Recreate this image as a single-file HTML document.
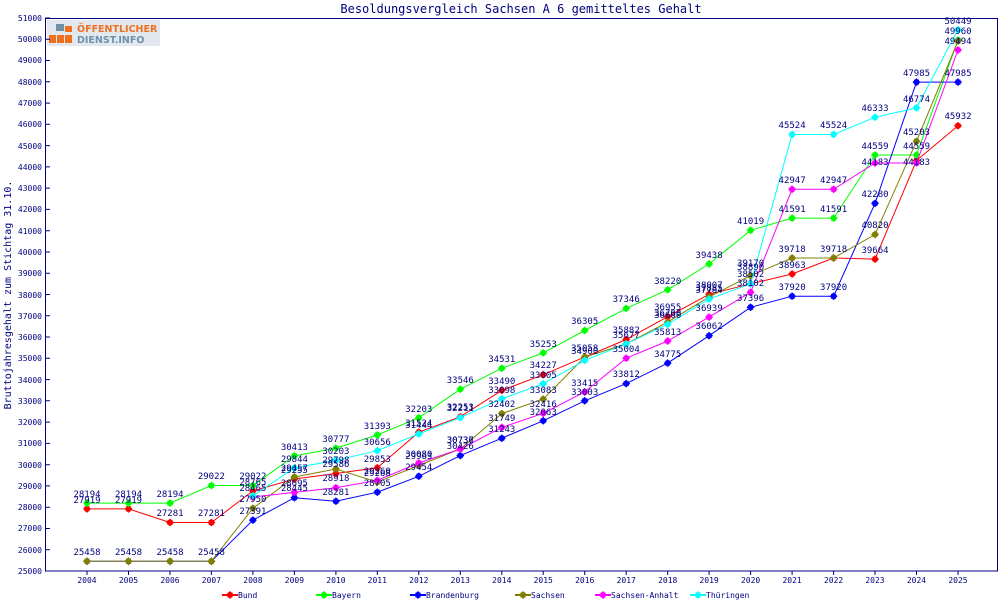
<!DOCTYPE html>
<html><head><meta charset="utf-8"><style>
body{margin:0;background:#fff}
svg text{font-family:"DejaVu Sans Mono","Liberation Mono",monospace;fill:#000080}
.l{font-size:9px;text-anchor:middle}
</style></head><body>
<svg width="1000" height="600" xmlns="http://www.w3.org/2000/svg">
<defs>
<marker id="mr" markerUnits="userSpaceOnUse" markerWidth="8" markerHeight="8" refX="4" refY="4"><path d="M1.5 1.5H6.5V6.5H1.5Z M4 0L8 4L4 8L0 4Z" fill="#f00"/></marker>
<marker id="mg" markerUnits="userSpaceOnUse" markerWidth="8" markerHeight="8" refX="4" refY="4"><path d="M1.5 1.5H6.5V6.5H1.5Z M4 0L8 4L4 8L0 4Z" fill="#0f0"/></marker>
<marker id="mb" markerUnits="userSpaceOnUse" markerWidth="8" markerHeight="8" refX="4" refY="4"><path d="M1.5 1.5H6.5V6.5H1.5Z M4 0L8 4L4 8L0 4Z" fill="#00f"/></marker>
<marker id="mo" markerUnits="userSpaceOnUse" markerWidth="8" markerHeight="8" refX="4" refY="4"><path d="M1.5 1.5H6.5V6.5H1.5Z M4 0L8 4L4 8L0 4Z" fill="#808000"/></marker>
<marker id="mm" markerUnits="userSpaceOnUse" markerWidth="8" markerHeight="8" refX="4" refY="4"><path d="M1.5 1.5H6.5V6.5H1.5Z M4 0L8 4L4 8L0 4Z" fill="#f0f"/></marker>
<marker id="mc" markerUnits="userSpaceOnUse" markerWidth="8" markerHeight="8" refX="4" refY="4"><path d="M1.5 1.5H6.5V6.5H1.5Z M4 0L8 4L4 8L0 4Z" fill="#0ff"/></marker>
</defs>
<text x="521" y="13" style="font-size:12px;text-anchor:middle">Besoldungsvergleich Sachsen A 6 gemitteltes Gehalt</text>
<rect x="45.5" y="18.5" width="952" height="552.5" fill="none" stroke="#000080"/>
<rect x="47" y="20" width="113" height="26" fill="#e2e8ee"/>
<rect x="56" y="24" width="8" height="7" fill="#7090a8"/><rect x="65" y="26" width="7" height="6" fill="#f07020"/>
<rect x="49" y="35" width="7" height="8" fill="#f07020"/><rect x="57" y="35" width="7" height="8" fill="#f07020"/><rect x="65" y="35" width="7" height="8" fill="#f07020"/>
<text x="77" y="32" style="font-family:'DejaVu Sans',sans-serif;font-size:9.5px;font-weight:bold;fill:#f07020">ÖFFENTLICHER</text>
<text x="77" y="43" style="font-family:'DejaVu Sans',sans-serif;font-size:9.5px;font-weight:bold;fill:#7090b0">DIENST.INFO</text>
<g stroke="#000080">
<path d="M45 571h5M45 549.7h5M45 528.5h5M45 507.2h5M45 485.9h5M45 464.7h5M45 443.4h5M45 422.1h5M45 400.8h5M45 379.6h5M45 358.3h5M45 337h5M45 315.8h5M45 294.5h5M45 273.2h5M45 252h5M45 230.7h5M45 209.4h5M45 188.1h5M45 166.9h5M45 145.6h5M45 124.3h5M45 103.1h5M45 81.8h5M45 60.5h5M45 39.3h5M45 18h5"/>
<path d="M87 571v4M128.5 571v4M170 571v4M211.4 571v4M252.9 571v4M294.4 571v4M335.9 571v4M377.3 571v4M418.8 571v4M460.3 571v4M501.8 571v4M543.2 571v4M584.7 571v4M626.2 571v4M667.7 571v4M709.1 571v4M750.6 571v4M792.1 571v4M833.6 571v4M875 571v4M916.5 571v4M958 571v4"/>
</g>
<g style="font-size:8px;text-anchor:end">
<text x="42" y="574">25000</text><text x="42" y="553">26000</text><text x="42" y="531">27000</text><text x="42" y="510">28000</text><text x="42" y="489">29000</text><text x="42" y="468">30000</text><text x="42" y="446">31000</text><text x="42" y="425">32000</text><text x="42" y="404">33000</text><text x="42" y="383">34000</text><text x="42" y="361">35000</text><text x="42" y="340">36000</text><text x="42" y="319">37000</text><text x="42" y="298">38000</text><text x="42" y="276">39000</text><text x="42" y="255">40000</text><text x="42" y="234">41000</text><text x="42" y="212">42000</text><text x="42" y="191">43000</text><text x="42" y="170">44000</text><text x="42" y="149">45000</text><text x="42" y="127">46000</text><text x="42" y="106">47000</text><text x="42" y="85">48000</text><text x="42" y="63">49000</text><text x="42" y="42">50000</text><text x="42" y="21">51000</text>
</g>
<g style="font-size:8px;text-anchor:middle">
<text x="87" y="583">2004</text><text x="128.5" y="583">2005</text><text x="170" y="583">2006</text><text x="211.4" y="583">2007</text><text x="252.9" y="583">2008</text><text x="294.4" y="583">2009</text><text x="335.9" y="583">2010</text><text x="377.3" y="583">2011</text><text x="418.8" y="583">2012</text><text x="460.3" y="583">2013</text><text x="501.8" y="583">2014</text><text x="543.2" y="583">2015</text><text x="584.7" y="583">2016</text><text x="626.2" y="583">2017</text><text x="667.7" y="583">2018</text><text x="709.1" y="583">2019</text><text x="750.6" y="583">2020</text><text x="792.1" y="583">2021</text><text x="833.6" y="583">2022</text><text x="875" y="583">2023</text><text x="916.5" y="583">2024</text><text x="958" y="583">2025</text>
</g>
<text transform="translate(11,295) rotate(-90)" style="font-size:10px;text-anchor:middle">Bruttojahresgehalt zum Stichtag 31.10.</text>
<g fill="none" stroke-width="1">
<polyline stroke="#f00" marker-start="url(#mr)" marker-mid="url(#mr)" marker-end="url(#mr)" points="87,508.9 128.5,508.9 170,522.5 211.4,522.5 252.9,490.9 294.4,479 335.9,473.5 377.3,467.8 418.8,432.2 460.3,416.7 501.8,390.4 543.2,374.7 584.7,357.1 626.2,339.5 667.7,316.7 709.1,294.3 750.6,283.8 792.1,274 833.6,258 875,259.1 916.5,160.5 958,125.8"/>
<polyline stroke="#0f0" marker-start="url(#mg)" marker-mid="url(#mg)" marker-end="url(#mg)" points="87,503.1 128.5,503.1 170,503.1 211.4,485.5 252.9,485.5 294.4,455.9 335.9,448.1 377.3,435 418.8,417.8 460.3,389.2 501.8,368.3 543.2,352.9 584.7,330.5 626.2,308.4 667.7,289.8 709.1,263.9 750.6,230.3 792.1,218.1 833.6,218.1 875,155 916.5,155 958,40.1"/>
<polyline stroke="#00f" marker-start="url(#mb)" marker-mid="url(#mb)" marker-end="url(#mb)" points="87,561.3 128.5,561.3 170,561.3 211.4,561.3 252.9,520.1 294.4,497.7 335.9,501.2 377.3,492.2 418.8,476.3 460.3,455.6 501.8,438.2 543.2,420.8 584.7,400.8 626.2,383.6 667.7,363.1 709.1,335.7 750.6,307.3 792.1,296.2 833.6,296.2 875,203.4 916.5,82.1 958,82.1"/>
<polyline stroke="#808000" marker-start="url(#mo)" marker-mid="url(#mo)" marker-end="url(#mo)" points="87,561.3 128.5,561.3 170,561.3 211.4,561.3 252.9,508.3 294.4,477 335.9,469 377.3,482.1 418.8,465.4 460.3,449 501.8,413.6 543.2,399.1 584.7,357.1 626.2,343.9 667.7,322.1 709.1,296.9 750.6,275.6 792.1,258 833.6,258 875,234.5 916.5,141.3 958,41"/>
<polyline stroke="#f0f" marker-start="url(#mm)" marker-mid="url(#mm)" marker-end="url(#mm)" points="252.9,497 294.4,492.4 335.9,487.7 377.3,480.4 418.8,463 460.3,449 501.8,427.4 543.2,413.3 584.7,392 626.2,358.2 667.7,341 709.1,317.1 750.6,292.3 792.1,189.3 833.6,189.3 875,163 916.5,163 958,50"/>
<polyline stroke="#0ff" marker-start="url(#mc)" marker-mid="url(#mc)" marker-end="url(#mc)" points="252.9,495.9 294.4,468 335.9,460.3 377.3,450.7 418.8,433.9 460.3,417.6 501.8,398.8 543.2,383.7 584.7,360.4 626.2,343.9 667.7,324.3 709.1,299.1 750.6,283.8 792.1,134.5 833.6,134.5 875,117.3 916.5,107.9 958,29.7"/>
</g>
<g class="l">
<text x="87" y="503" class="l">27919</text><text x="128.5" y="503" class="l">27919</text><text x="170" y="516" class="l">27281</text><text x="211.4" y="516" class="l">27281</text><text x="252.9" y="485" class="l">28765</text><text x="294.4" y="473" class="l">29255</text><text x="335.9" y="467" class="l">29586</text><text x="377.3" y="462" class="l">29853</text><text x="418.8" y="426" class="l">31524</text><text x="460.3" y="410" class="l">32253</text><text x="501.8" y="384" class="l">33490</text><text x="543.2" y="368" class="l">34227</text><text x="584.7" y="351" class="l">35058</text><text x="626.2" y="333" class="l">35882</text><text x="667.7" y="310" class="l">36955</text><text x="709.1" y="288" class="l">38007</text><text x="750.6" y="277" class="l">38502</text><text x="792.1" y="268" class="l">38963</text><text x="833.6" y="252" class="l">39718</text><text x="875" y="253" class="l">39664</text><text x="958" y="119" class="l">45932</text>
<text x="87" y="497" class="l">28194</text><text x="128.5" y="497" class="l">28194</text><text x="170" y="497" class="l">28194</text><text x="211.4" y="479" class="l">29022</text><text x="252.9" y="479" class="l">29022</text><text x="294.4" y="450" class="l">30413</text><text x="335.9" y="442" class="l">30777</text><text x="377.3" y="429" class="l">31393</text><text x="418.8" y="412" class="l">32203</text><text x="460.3" y="383" class="l">33546</text><text x="501.8" y="362" class="l">34531</text><text x="543.2" y="347" class="l">35253</text><text x="584.7" y="324" class="l">36305</text><text x="626.2" y="302" class="l">37346</text><text x="667.7" y="284" class="l">38220</text><text x="709.1" y="258" class="l">39438</text><text x="750.6" y="224" class="l">41019</text><text x="792.1" y="212" class="l">41591</text><text x="833.6" y="212" class="l">41591</text><text x="875" y="149" class="l">44559</text><text x="916.5" y="149" class="l">44559</text><text x="958" y="34" class="l">49960</text>
<text x="87" y="555" class="l">25458</text><text x="128.5" y="555" class="l">25458</text><text x="170" y="555" class="l">25458</text><text x="211.4" y="555" class="l">25458</text><text x="252.9" y="514" class="l">27391</text><text x="294.4" y="491" class="l">28445</text><text x="335.9" y="495" class="l">28281</text><text x="377.3" y="486" class="l">28705</text><text x="418.8" y="470" class="l">29454</text><text x="460.3" y="449" class="l">30426</text><text x="501.8" y="432" class="l">31243</text><text x="543.2" y="415" class="l">32063</text><text x="584.7" y="395" class="l">33003</text><text x="626.2" y="377" class="l">33812</text><text x="667.7" y="357" class="l">34775</text><text x="709.1" y="329" class="l">36062</text><text x="750.6" y="301" class="l">37396</text><text x="792.1" y="290" class="l">37920</text><text x="833.6" y="290" class="l">37920</text><text x="875" y="197" class="l">42280</text><text x="916.5" y="76" class="l">47985</text><text x="958" y="76" class="l">47985</text>
<text x="252.9" y="502" class="l">27950</text><text x="294.4" y="471" class="l">29457</text><text x="335.9" y="463" class="l">29798</text><text x="377.3" y="476" class="l">29268</text><text x="418.8" y="459" class="l">29963</text><text x="460.3" y="443" class="l">30736</text><text x="501.8" y="407" class="l">32402</text><text x="543.2" y="393" class="l">33083</text><text x="626.2" y="338" class="l">35677</text><text x="667.7" y="316" class="l">36700</text><text x="709.1" y="291" class="l">37885</text><text x="750.6" y="270" class="l">38890</text><text x="792.1" y="252" class="l">39718</text><text x="875" y="228" class="l">40820</text><text x="916.5" y="135" class="l">45203</text>
<text x="252.9" y="491" class="l">28465</text><text x="294.4" y="486" class="l">28695</text><text x="335.9" y="481" class="l">28918</text><text x="377.3" y="474" class="l">29260</text><text x="418.8" y="457" class="l">30080</text><text x="460.3" y="443" class="l">30737</text><text x="501.8" y="421" class="l">31749</text><text x="543.2" y="407" class="l">32416</text><text x="584.7" y="386" class="l">33415</text><text x="626.2" y="352" class="l">35004</text><text x="667.7" y="335" class="l">35813</text><text x="709.1" y="311" class="l">36939</text><text x="750.6" y="286" class="l">38102</text><text x="792.1" y="183" class="l">42947</text><text x="833.6" y="183" class="l">42947</text><text x="875" y="165" class="l">44183</text><text x="916.5" y="165" class="l">44183</text><text x="958" y="44" class="l">49494</text>
<text x="294.4" y="462" class="l">29844</text><text x="335.9" y="454" class="l">30203</text><text x="377.3" y="445" class="l">30656</text><text x="418.8" y="428" class="l">31444</text><text x="460.3" y="411" class="l">32211</text><text x="501.8" y="393" class="l">33098</text><text x="543.2" y="378" class="l">33805</text><text x="584.7" y="354" class="l">34900</text><text x="667.7" y="318" class="l">36600</text><text x="709.1" y="293" class="l">37784</text><text x="750.6" y="266" class="l">39170</text><text x="792.1" y="128" class="l">45524</text><text x="833.6" y="128" class="l">45524</text><text x="875" y="111" class="l">46333</text><text x="916.5" y="102" class="l">46774</text><text x="958" y="24" class="l">50449</text>
</g>
<g style="font-size:8px" stroke-width="2">
<path d="M222 595h8h8" stroke="#f00" marker-mid="url(#mr)"/><text x="238" y="598" stroke="none">Bund</text>
<path d="M316 595h8h8" stroke="#0f0" marker-mid="url(#mg)"/><text x="332" y="598" stroke="none">Bayern</text>
<path d="M410 595h8h8" stroke="#00f" marker-mid="url(#mb)"/><text x="426" y="598" stroke="none">Brandenburg</text>
<path d="M515 595h8h8" stroke="#808000" marker-mid="url(#mo)"/><text x="531" y="598" stroke="none">Sachsen</text>
<path d="M595 595h8h8" stroke="#f0f" marker-mid="url(#mm)"/><text x="611" y="598" stroke="none">Sachsen-Anhalt</text>
<path d="M690 595h8h8" stroke="#0ff" marker-mid="url(#mc)"/><text x="706" y="598" stroke="none">Thüringen</text>
</g>
</svg>
</body></html>
